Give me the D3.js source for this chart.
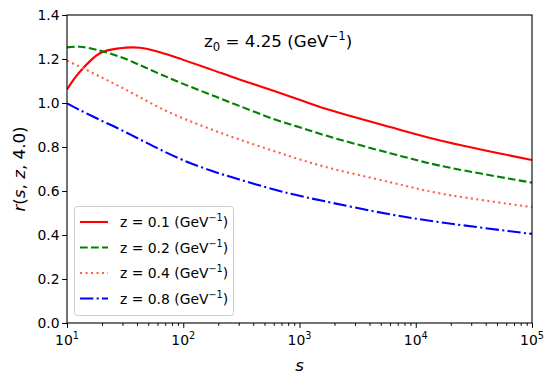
<!DOCTYPE html>
<html>
<head>
<meta charset="utf-8">
<script src="https://cdn.jsdelivr.net/npm/d3@7"></script>
<style>
  body { margin: 0; background: #fff; }
  svg { font-family: "DejaVu Sans", sans-serif; }
</style>
</head>
<body>
<svg id="draw"></svg>
<script>
// values
const sValues = [10, 12.9, 19.2, 28.6, 42.5, 63, 100, 170, 300, 615, 1000, 1656, 6000, 16200, 100000];
const rZ01 = [1.062, 1.142, 1.226, 1.249, 1.251, 1.231, 1.196, 1.154, 1.108, 1.053, 1.015, 0.975, 0.891, 0.830, 0.741];
const rZ02 = [1.253, 1.256, 1.238, 1.210, 1.172, 1.132, 1.087, 1.039, 0.988, 0.925, 0.890, 0.853, 0.772, 0.715, 0.638];
const rZ04 = [1.192, 1.165, 1.120, 1.074, 1.026, 0.978, 0.930, 0.882, 0.835, 0.780, 0.744, 0.710, 0.640, 0.589, 0.527];
const rZ08 = [0.998, 0.968, 0.923, 0.880, 0.834, 0.789, 0.740, 0.694, 0.653, 0.606, 0.578, 0.553, 0.494, 0.458, 0.405];

const legendLabels = ["z = 0.1 (GeV", "z = 0.2 (GeV", "z = 0.4 (GeV", "z = 0.8 (GeV"];
const xTicks = [10, 100, 1000, 10000, 100000];
const xTickExp = ["1", "2", "3", "4", "5"];
const yTicks = [0, 0.2, 0.4, 0.6, 0.8, 1.0, 1.2, 1.4];

const width = 554;
const height = 385;
const margin = {left: 67, right: 22, top: 15, bottom: 62};

const series = [
  {values: rZ01, color: "red", dash: null},
  {values: rZ02, color: "green", dash: "7.7,3.3"},
  {values: rZ04, color: "tomato", dash: "2.1,3.4"},
  {values: rZ08, color: "blue", dash: "13.3,3.3,2.1,3.3"}
];

var svg = d3.select("#draw")
  .attr("width", width)
  .attr("height", height);

var x = d3.scaleLog()
  .domain([10, 100000])
  .range([margin.left, width - margin.right]);

var y = d3.scaleLinear()
  .domain([0, 1.4])
  .range([height - margin.bottom, margin.top]);

// clip to plot area
svg.append("clipPath").attr("id", "clip")
  .append("rect")
  .attr("x", margin.left).attr("y", margin.top)
  .attr("width", width - margin.left - margin.right)
  .attr("height", height - margin.top - margin.bottom);

var line = d3.line()
  .x((d, i) => x(sValues[i]))
  .y(d => y(d))
  .curve(d3.curveCatmullRom.alpha(0.5));

svg.append("g")
  .attr("clip-path", "url(#clip)")
  .selectAll("path")
  .data(series)
  .enter().append("path")
  .attr("d", d => line(d.values))
  .attr("fill", "none")
  .attr("stroke", d => d.color)
  .attr("stroke-width", 2.1)
  .attr("stroke-dasharray", d => d.dash);

// axes
var xMinor = [];
for (var e = 1; e < 5; e++) {
  for (var k = 2; k < 10; k++) xMinor.push(k * Math.pow(10, e));
}

var xAxis = svg.append("g")
  .attr("transform", "translate(0," + (height - margin.bottom) + ")");

xAxis.append("g")
  .call(d3.axisBottom(x).tickValues(xMinor).tickSize(2.8).tickFormat(""))
  .call(g => g.select(".domain").remove());

xAxis.append("g")
  .call(d3.axisBottom(x).tickValues(xTicks).tickSize(4.9).tickFormat(""))
  .call(g => g.select(".domain").remove());

var xLab = xAxis.selectAll(".xlab")
  .data(xTicks)
  .enter().append("text")
  .attr("class", "xlab")
  .attr("x", d => x(d))
  .attr("y", 22)
  .attr("text-anchor", "middle")
  .attr("font-size", 13.9)
  .attr("fill", "#000");
xLab.append("tspan").text("10");
xLab.append("tspan")
  .attr("dy", -6)
  .attr("font-size", 9.7)
  .text((d, i) => xTickExp[i]);

var yAxis = svg.append("g")
  .attr("transform", "translate(" + margin.left + ",0)")
  .call(d3.axisLeft(y).tickValues(yTicks).tickSize(4.9).tickFormat(d3.format(".1f")))
  .call(g => g.select(".domain").remove());
yAxis.selectAll("text")
  .attr("font-size", 13.9)
  .attr("font-family", "DejaVu Sans")
  .attr("fill", "#000")
  .attr("x", -7.5);

svg.selectAll(".tick line").attr("stroke", "#000").attr("stroke-width", 1);

// frame
svg.append("rect")
  .attr("x", margin.left).attr("y", margin.top)
  .attr("width", width - margin.left - margin.right)
  .attr("height", height - margin.top - margin.bottom)
  .attr("fill", "none")
  .attr("stroke", "#000")
  .attr("stroke-width", 1.1);

// axis labels
svg.append("text")
  .attr("x", (margin.left + width - margin.right) / 2)
  .attr("y", 371)
  .attr("text-anchor", "middle")
  .attr("font-size", 16.7)
  .attr("font-style", "italic")
  .text("s");

var yl = svg.append("text")
  .attr("transform", "translate(25," + ((margin.top + height - margin.bottom) / 2) + ") rotate(-90)")
  .attr("text-anchor", "middle")
  .attr("font-size", 16.7);
yl.append("tspan").attr("font-style", "italic").text("r");
yl.append("tspan").text("(");
yl.append("tspan").attr("font-style", "italic").text("s");
yl.append("tspan").text(", ");
yl.append("tspan").attr("font-style", "italic").text("z");
yl.append("tspan").text(", 4.0)");

// annotation
var ann = svg.append("text")
  .attr("x", 204)
  .attr("y", 47)
  .attr("font-size", 16.7)
  .attr("fill", "#000");
ann.append("tspan").text("z");
ann.append("tspan").attr("dy", 4).attr("font-size", 11.7).text("0");
ann.append("tspan").attr("dy", -4).text(" = 4.25 (GeV");
ann.append("tspan").attr("dy", -7).attr("font-size", 11.7).text("\u22121");
ann.append("tspan").attr("dy", 7).text(")");

// legend
var legend = svg.append("g");
legend.append("rect")
  .attr("x", 74.5).attr("y", 206.5)
  .attr("width", 159).attr("height", 109)
  .attr("rx", 3)
  .attr("fill", "#fff")
  .attr("fill-opacity", 0.8)
  .attr("stroke", "#ccc")
  .attr("stroke-width", 1);

var items = legend.selectAll(".item")
  .data(series)
  .enter().append("g")
  .attr("class", "item")
  .attr("transform", (d, i) => "translate(0," + (222 + i * 25.5) + ")");

items.append("line")
  .attr("x1", 80).attr("x2", 108)
  .attr("y1", 0).attr("y2", 0)
  .attr("stroke", d => d.color)
  .attr("stroke-width", 2.1)
  .attr("stroke-dasharray", d => d.dash);

var itemText = items.append("text")
  .attr("x", 120)
  .attr("y", 5)
  .attr("font-size", 13.9)
  .attr("fill", "#000");
itemText.append("tspan").text((d, i) => legendLabels[i]);
itemText.append("tspan").attr("dy", -6).attr("font-size", 9.7).text("\u22121");
itemText.append("tspan").attr("dy", 6).text(")");
</script>
</body>
</html>
